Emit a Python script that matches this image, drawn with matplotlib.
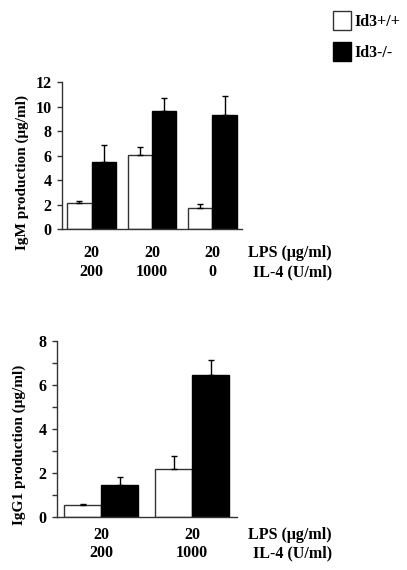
# IgM / IgG1 production, Id3+/+ vs Id3-/-
import matplotlib
matplotlib.use('Agg')
import matplotlib.pyplot as plt
import matplotlib.transforms as mtransforms
import numpy as np

plt.rcParams['font.family'] = ['Liberation Serif', 'DejaVu Serif']
plt.rcParams['font.weight'] = 'bold'

# top panel - IgM
igm_lps = ['20', '20', '20']
igm_il4 = ['200', '1000', '0']
igm_wt = [2.12, 6.05, 1.75]
igm_wt_err = [0.15, 0.7, 0.32]
igm_ko = [5.5, 9.68, 9.3]
igm_ko_err = [1.38, 1.06, 1.56]

# bottom panel - IgG1
igg_lps = ['20', '20']
igg_il4 = ['200', '1000']
igg_wt = [0.53, 2.15]
igg_wt_err = [0.06, 0.62]
igg_ko = [1.44, 6.42]
igg_ko_err = [0.38, 0.69]

W, H = 407, 570
fs = 11.5
fig = plt.figure(figsize=(W / 100, H / 100), dpi=100)


def panel(rect, lps, il4, wt, wt_err, ko, ko_err, ymax, minor, ylabel, lab_xy, row_y):
    ax = fig.add_axes(rect)
    x = np.arange(len(wt))
    w = 0.405
    b1 = ax.bar(x - w / 2, wt, w, color='white', edgecolor='#333333', linewidth=1.0, label='Id3+/+')
    b2 = ax.bar(x + w / 2, ko, w, color='black', edgecolor='black', linewidth=1.0, label='Id3-/-')
    ax.errorbar(x - w / 2, wt, yerr=[np.zeros(len(wt)), wt_err], fmt='none',
                ecolor='black', elinewidth=1, capsize=2.5, capthick=1)
    ax.errorbar(x + w / 2, ko, yerr=[np.zeros(len(ko)), ko_err], fmt='none',
                ecolor='black', elinewidth=1, capsize=2.5, capthick=1)
    ax.set_xlim(-0.49, len(wt) - 1 + w + 0.085)
    ax.set_ylim(0, ymax)
    ax.set_yticks(np.arange(0, ymax + 1, 2))
    if minor:
        ax.set_yticks(np.arange(0, ymax + 1, 1), minor=True)
    for s in ['top', 'right']:
        ax.spines[s].set_visible(False)
    for s in ['left', 'bottom']:
        ax.spines[s].set_color('#333333')
        ax.spines[s].set_linewidth(1.0)
    ax.tick_params(axis='y', which='both', length=3.5, width=1, color='#333333',
                   labelsize=fs, pad=4)
    ax.set_xticks([])
    ax.set_ylabel(ylabel, fontsize=11, fontweight='bold')
    ax.yaxis.set_label_coords(*lab_xy)
    # condition labels under each group
    tr = mtransforms.blended_transform_factory(ax.transData, fig.transFigure)
    for xi, a, b in zip(x, lps, il4):
        ax.text(xi, 1 - row_y[0] / H, a, transform=tr, ha='center', va='center',
                fontsize=fs, fontweight='bold')
        ax.text(xi, 1 - row_y[1] / H, b, transform=tr, ha='center', va='center',
                fontsize=fs, fontweight='bold')
    fig.text(332 / W, 1 - row_y[0] / H, 'LPS (μg/ml)', ha='right', va='center',
             fontsize=fs, fontweight='bold')
    fig.text(332 / W, 1 - row_y[1] / H, 'IL-4 (U/ml)', ha='right', va='center',
             fontsize=fs, fontweight='bold')
    return ax, b1, b2


ax1, h1, h2 = panel([62 / W, 1 - 229.3 / H, 180 / W, 147 / H], igm_lps, igm_il4,
                    igm_wt, igm_wt_err, igm_ko, igm_ko_err, 12, False,
                    'IgM production (μg/ml)', (-0.185, 0.386), (253, 272))
ax2, _, _ = panel([56.7 / W, 1 - 516.7 / H, 180 / W, 176 / H], igg_lps, igg_il4,
                  igg_wt, igg_wt_err, igg_ko, igg_ko_err, 8, True,
                  'IgG1 production (μg/ml)', (-0.17, 0.41), (535, 553))

fig.legend(handles=[h1, h2], loc='upper left', bbox_to_anchor=(332.5 / W, 1 - 11 / H),
           frameon=False, borderpad=0, borderaxespad=0, handlelength=1.15, handleheight=1.45,
           handletextpad=0.2, labelspacing=0.75, prop={'size': fs, 'weight': 'bold'})

fig.savefig('out.png', dpi=100)
